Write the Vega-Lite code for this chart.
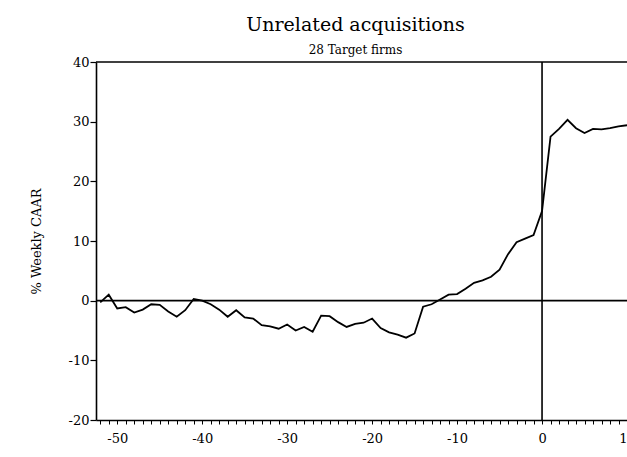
{
  "$schema": "https://vega.github.io/schema/vega-lite/v6.json",
  "width": 531,
  "height": 358,
  "autosize": "none",
  "padding": {"left": 96, "top": 62, "right": 0, "bottom": 37},
  "background": "white",
  "config": {
    "view": {"stroke": null},
    "font": "DejaVu Serif"
  },
  "title": {
    "text": "Unrelated acquisitions",
    "subtitle": "28 Target firms",
    "font": "DejaVu Serif",
    "fontSize": 19,
    "fontWeight": "normal",
    "subtitleFont": "DejaVu Serif",
    "subtitleFontSize": 12,
    "subtitleColor": "black",
    "color": "black",
    "anchor": "middle",
    "dx": -6,
    "offset": 0,
    "subtitlePadding": 10
  },
  "datasets": {
    "caar": [
      {"week": -52, "caar": -0.3},
      {"week": -51, "caar": 1.0},
      {"week": -50, "caar": -1.3},
      {"week": -49, "caar": -1.1},
      {"week": -48, "caar": -2.0},
      {"week": -47, "caar": -1.5},
      {"week": -46, "caar": -0.6},
      {"week": -45, "caar": -0.7},
      {"week": -44, "caar": -1.8},
      {"week": -43, "caar": -2.7},
      {"week": -42, "caar": -1.6},
      {"week": -41, "caar": 0.3},
      {"week": -40, "caar": 0.0},
      {"week": -39, "caar": -0.6},
      {"week": -38, "caar": -1.5},
      {"week": -37, "caar": -2.7},
      {"week": -36, "caar": -1.6},
      {"week": -35, "caar": -2.8},
      {"week": -34, "caar": -3.0},
      {"week": -33, "caar": -4.1},
      {"week": -32, "caar": -4.3},
      {"week": -31, "caar": -4.7},
      {"week": -30, "caar": -4.0},
      {"week": -29, "caar": -5.0},
      {"week": -28, "caar": -4.4},
      {"week": -27, "caar": -5.2},
      {"week": -26, "caar": -2.5},
      {"week": -25, "caar": -2.6},
      {"week": -24, "caar": -3.6},
      {"week": -23, "caar": -4.4},
      {"week": -22, "caar": -3.9},
      {"week": -21, "caar": -3.7},
      {"week": -20, "caar": -3.0},
      {"week": -19, "caar": -4.6},
      {"week": -18, "caar": -5.3},
      {"week": -17, "caar": -5.7},
      {"week": -16, "caar": -6.2},
      {"week": -15, "caar": -5.5},
      {"week": -14, "caar": -1.0},
      {"week": -13, "caar": -0.6},
      {"week": -12, "caar": 0.2},
      {"week": -11, "caar": 1.0},
      {"week": -10, "caar": 1.1},
      {"week": -9, "caar": 2.0},
      {"week": -8, "caar": 3.0},
      {"week": -7, "caar": 3.4},
      {"week": -6, "caar": 4.0},
      {"week": -5, "caar": 5.2},
      {"week": -4, "caar": 7.8},
      {"week": -3, "caar": 9.8},
      {"week": -2, "caar": 10.4},
      {"week": -1, "caar": 11.0},
      {"week": 0, "caar": 15.0},
      {"week": 1, "caar": 27.5},
      {"week": 2, "caar": 28.8},
      {"week": 3, "caar": 30.3},
      {"week": 4, "caar": 28.9},
      {"week": 5, "caar": 28.1},
      {"week": 6, "caar": 28.8},
      {"week": 7, "caar": 28.7},
      {"week": 8, "caar": 28.9},
      {"week": 9, "caar": 29.2},
      {"week": 10, "caar": 29.4}
    ],
    "hlines": [{"y": 0}, {"y": 40}],
    "vlines": [{"x": 0}]
  },
  "layer": [
    {
      "data": {"name": "hlines"},
      "mark": {"type": "rule", "color": "black", "strokeWidth": 1.6},
      "encoding": {
        "y": {"field": "y", "type": "quantitative", "scale": {"domain": [-20, 40], "nice": false, "zero": false}}
      }
    },
    {
      "data": {"name": "vlines"},
      "mark": {"type": "rule", "color": "black", "strokeWidth": 1.6},
      "encoding": {
        "x": {"field": "x", "type": "quantitative", "scale": {"domain": [-52.5, 10], "nice": false, "zero": false}}
      }
    },
    {
      "data": {"name": "caar"},
      "mark": {"type": "line", "color": "black", "strokeWidth": 1.8, "clip": true},
      "encoding": {
        "x": {
          "field": "week",
          "type": "quantitative",
          "scale": {"domain": [-52.5, 10], "nice": false, "zero": false},
          "axis": {
            "title": null,
            "tickCount": 200,
            "values": [-52,-51,-50,-49,-48,-47,-46,-45,-44,-43,-42,-41,-40,-39,-38,-37,-36,-35,-34,-33,-32,-31,-30,-29,-28,-27,-26,-25,-24,-23,-22,-21,-20,-19,-18,-17,-16,-15,-14,-13,-12,-11,-10,-9,-8,-7,-6,-5,-4,-3,-2,-1,0,1,2,3,4,5,6,7,8,9,10],
            "labelExpr": "datum.value % 10 === 0 ? '' + datum.value : ''",
            "grid": false,
            "domainColor": "black",
            "domainWidth": 1.6,
            "tickColor": "black",
            "tickSize": 4,
            "tickWidth": 1,
            "labelFont": "DejaVu Serif",
            "labelFontSize": 13,
            "labelColor": "black",
            "labelPadding": 8,
            "labelFlush": false,
            "labelOverlap": false
          }
        },
        "y": {
          "field": "caar",
          "type": "quantitative",
          "scale": {"domain": [-20, 40], "nice": false, "zero": false},
          "axis": {
            "title": "% Weekly CAAR",
            "tickCount": 20,
            "values": [-20, -10, 0, 10, 20, 30, 40],
            "labelExpr": "'' + datum.value",
            "grid": false,
            "domainColor": "black",
            "domainWidth": 1.6,
            "tickColor": "black",
            "tickSize": 6,
            "tickWidth": 1.2,
            "labelFont": "DejaVu Serif",
            "labelFontSize": 13,
            "labelColor": "black",
            "labelPadding": 1,
            "titleFont": "DejaVu Serif",
            "titleFontSize": 13,
            "titleFontWeight": "normal",
            "titleColor": "black",
            "titlePadding": 25
          }
        }
      }
    }
  ]
}
